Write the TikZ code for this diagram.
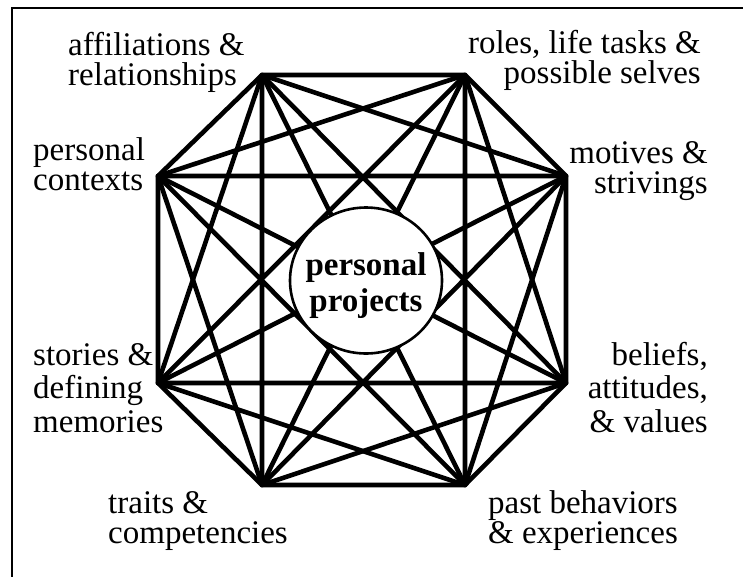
\documentclass[tikz,border=0pt]{standalone}
\usepackage{fontspec}
\setmainfont{Liberation Serif}
\usetikzlibrary{shapes.geometric}

\begin{document}
\begin{tikzpicture}[
  x=1pt, y=-1pt,
  link/.style={line width=4.6pt, line join=round, line cap=round},
  tag/.style={inner sep=0pt, font=\fontsize{33}{29.5}\selectfont},
  tall/.style={font=\fontsize{33}{33.5}\selectfont},
  hub/.style={draw, ellipse, fill=white, line width=2.6pt, minimum width=152pt, minimum height=146pt}
]
\useasboundingbox (0,0) rectangle (743,576);
\clip (0,0) rectangle (743,576);
\draw[line width=2.5pt] (12,8) rectangle (770,600);

% corners of the octagon
\coordinate (aff) at (262,75);
\coordinate (roles) at (465,75);
\coordinate (mot) at (566,176);
\coordinate (bel) at (566,383);
\coordinate (past) at (465,485);
\coordinate (traits) at (262,485);
\coordinate (stor) at (158,383);
\coordinate (ctx) at (158,176);

% every corner joined to every other one
\draw[link] (aff) -- (roles) -- (mot) -- (bel) -- (past) -- (traits) -- (stor) -- (ctx) -- cycle;
\draw[link] (aff) -- (mot) -- (past) -- (stor) -- cycle;
\draw[link] (roles) -- (bel) -- (traits) -- (ctx) -- cycle;
\draw[link] (aff) -- (bel) -- (stor) -- (roles) -- (past) -- (ctx) -- (mot) -- (traits) -- cycle;
\draw[link] (aff) -- (past);
\draw[link] (roles) -- (traits);
\draw[link] (mot) -- (stor);
\draw[link] (bel) -- (ctx);

\node[hub] (hub) at (366,280.5) {};
\node[tag, align=center, anchor=base, font=\fontsize{33}{36}\selectfont\bfseries] (core) at (366,311) {personal\\projects};

\node[tag, align=left, anchor=base west] (afflab) at (68,85) {affiliations \&\\relationships};
\node[tag, align=right, anchor=base east] (roleslab) at (701,83) {roles, life tasks \&\\possible selves};
\node[tag, align=left, anchor=base west] (ctxlab) at (33,190) {personal\\contexts};
\node[tag, align=right, anchor=base east] (motlab) at (708,193) {motives \&\\strivings};
\node[tag, tall, align=left, anchor=base west] (storlab) at (33,432) {stories \&\\defining\\memories};
\node[tag, tall, align=right, anchor=base east] (bellab) at (708,432) {beliefs,\\attitudes,\\\& values};
\node[tag, align=left, anchor=base west] (traitslab) at (108,543) {traits \&\\competencies};
\node[tag, align=right, anchor=base east] (pastlab) at (678,543) {past behaviors\\\& experiences};
\end{tikzpicture}
\end{document}
